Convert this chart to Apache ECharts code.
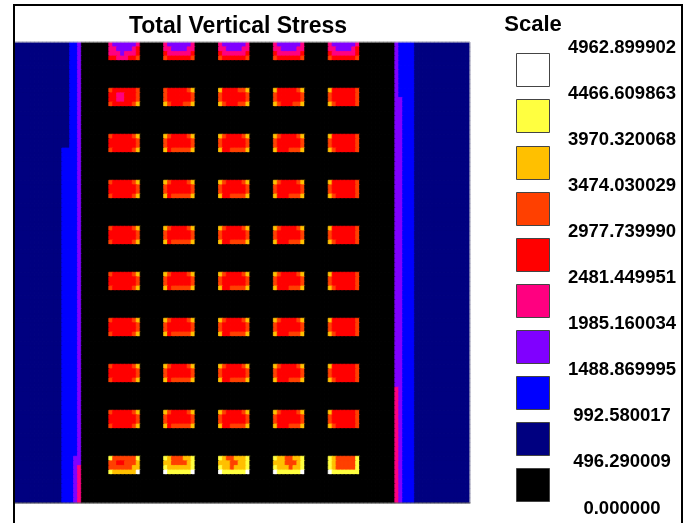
<!DOCTYPE html>
<html><head><meta charset="utf-8">
<script src="https://cdn.jsdelivr.net/npm/echarts@6/dist/echarts.min.js"></script>
<style>html,body{margin:0;padding:0;background:#fff}#c{width:694px;height:523px}</style>
</head><body><div id="c"></div>
<script>
// ---- Scale (legend) ----
const scaleLabels = ['4962.899902','4466.609863','3970.320068','3474.030029','2977.739990','2481.449951','1985.160034','1488.869995','992.580017','496.290009','0.000000'];
const scaleBounds = [0, 496.290009, 992.580017, 1488.869995, 1985.160034, 2481.449951, 2977.739990, 3474.030029, 3970.320068, 4466.609863, 4962.899902];
// colour of each stress class, lowest (0) to highest (9)
const levelColors = ['#000000','#000080','#0000ff','#8000ff','#ff0080','#ff0000','#ff4000','#ffc000','#ffff40','#ffffff'];

// ---- Grid of elements (stress class per cell) ----
const nCols = 116, nRows = 100;
// left abutment: runs of [class, count] for columns 0..23
const leftEdge = [
  {rows:[0,22],  runs:[[1,14],[2,2],[3,1],[0,7]]},
  {rows:[23,89], runs:[[1,12],[2,4],[3,1],[0,7]]},
  {rows:[90,91], runs:[[1,12],[2,3],[3,2],[0,7]]},
  {rows:[92,99], runs:[[1,12],[2,3],[3,1],[4,1],[0,7]]}
];
// right abutment: runs for columns 88..115
const rightEdge = [
  {rows:[0,11],  runs:[[0,9],[3,1],[2,4],[1,14]]},
  {rows:[12,74], runs:[[0,9],[3,2],[2,3],[1,14]]},
  {rows:[75,99], runs:[[0,9],[4,1],[3,1],[2,3],[1,14]]}
];
const pillarColStart = [24, 38, 52, 66, 80];
const pillarRowStart = [0, 10, 20, 30, 40, 50, 60, 70, 80, 90];
// pillar patterns (4 rows x 8 cols), per pillar column
const pillarsTop = [
  ['43333334','44333345','44434445','55444556'],
  ['43333334','44333344','54444445','65555556'],
  ['43333334','44333344','54444445','65555556'],
  ['43333334','44333344','54444445','65555556'],
  ['43333334','44333345','54444445','65555556']
];
const pillarsSecond = [
  ['65555556','55445556','55445556','65555567'],
  ['65555567','65555556','65555556','76555667'],
  ['75555667','65555556','65555556','76555667'],
  ['75555567','65555556','65555556','76555667'],
  ['75555556','65555556','65555556','76555556']
];
const pillarsInner = [
  ['65555567','55555556','55555556','65555567'],
  ['76555567','65555556','65555556','75666667'],
  ['76555567','65555556','65555556','75566667'],
  ['76555567','65555556','65555556','75556667'],
  ['75555556','65555556','65555556','76555556']
];
const pillarsBottom = [
  ['86666668','66556667','66666677','87777779'],
  ['87666778','77666678','87777778','98888889'],
  ['87667778','77766778','87767778','98888889'],
  ['87766778','77766678','87776778','98888889'],
  ['87666668','87666668','87666668','98888888']
];

// ---- assemble class grid ----
const grid = [];
for (let r = 0; r < nRows; r++) grid.push(new Array(nCols).fill(0));
function applyRuns(spec, c0) {
  spec.forEach(s => {
    for (let r = s.rows[0]; r <= s.rows[1]; r++) {
      let c = c0;
      s.runs.forEach(([lv, n]) => { for (let k = 0; k < n; k++) grid[r][c++] = lv; });
    }
  });
}
applyRuns(leftEdge, 0);
applyRuns(rightEdge, 88);
pillarRowStart.forEach((r0, bi) => {
  const set = bi === 0 ? pillarsTop : bi === 1 ? pillarsSecond : bi === pillarRowStart.length - 1 ? pillarsBottom : pillarsInner;
  pillarColStart.forEach((c0, pi) => {
    set[pi].forEach((rowStr, dr) => {
      for (let dc = 0; dc < rowStr.length; dc++) grid[r0 + dr][c0 + dc] = +rowStr[dc];
    });
  });
});
const data = [];
for (let r = 0; r < nRows; r++) for (let c = 0; c < nCols; c++) {
  const lv = grid[r][c];
  data.push({value:[c, r, (scaleBounds[lv] + scaleBounds[lv + 1]) / 2], itemStyle:{borderColor:levelColors[lv], borderWidth:0.8}});
}
const pieces = levelColors.map((col, i) => i === 9 ? {gte: scaleBounds[i], lte: scaleBounds[i+1], color: col} : {gte: scaleBounds[i], lt: scaleBounds[i+1], color: col});

// ---- legend graphics ----
const FONT = 'Liberation Sans, Arial, sans-serif';
const graphics = [];
graphics.push({type:'rect', shape:{x:14, y:5, width:668, height:560}, style:{fill:'none', stroke:'#000', lineWidth:2}, z:10});
graphics.push({type:'text', x:238, y:27, style:{text:'Total Vertical Stress', fontFamily:FONT, fontWeight:'bold', fontSize:23, fill:'#000', textAlign:'center', textVerticalAlign:'middle'}});
graphics.push({type:'text', x:533, y:25, style:{text:'Scale', fontFamily:FONT, fontWeight:'bold', fontSize:22, fill:'#000', textAlign:'center', textVerticalAlign:'middle'}});
scaleLabels.forEach((t, i) => {
  graphics.push({type:'text', x:622, y:47.5 + i*46.1, style:{text:t, fontFamily:FONT, fontWeight:'bold', fontSize:18.5, fill:'#000', textAlign:'center', textVerticalAlign:'middle'}});
  if (i < 10) graphics.push({type:'rect', shape:{x:516.5, y:Math.round(53.3 + i*46.1) + 0.5, width:33, height:33}, style:{fill:levelColors[9 - i], stroke:'#444', lineWidth:1}});
});
// plot frame lines
graphics.push({type:'line', shape:{x1:15, y1:42, x2:470, y2:42}, style:{stroke:'#c8c8c8', lineWidth:1}, z:5});
graphics.push({type:'line', shape:{x1:470, y1:42, x2:470, y2:503}, style:{stroke:'#c8c8c8', lineWidth:1}, z:5});
graphics.push({type:'line', shape:{x1:15, y1:503, x2:470.5, y2:503}, style:{stroke:'#555', lineWidth:1}, z:5});

const chart = echarts.init(document.getElementById('c'), null, {renderer:'canvas'});
chart.setOption({
  animation:false,
  backgroundColor:'#fff',
  grid:{left:15, top:42.5, width:454.5, height:460},
  xAxis:{type:'category', data:Array.from({length:nCols}, (_, i) => i), show:false, boundaryGap:true},
  yAxis:{type:'category', data:Array.from({length:nRows}, (_, i) => i), show:false, inverse:true, boundaryGap:true},
  visualMap:{type:'piecewise', show:false, dimension:2, pieces:pieces},
  series:[{type:'heatmap', data:data, progressive:0, silent:true, emphasis:{disabled:true}}],
  graphic:graphics
});
</script>
</body></html>
